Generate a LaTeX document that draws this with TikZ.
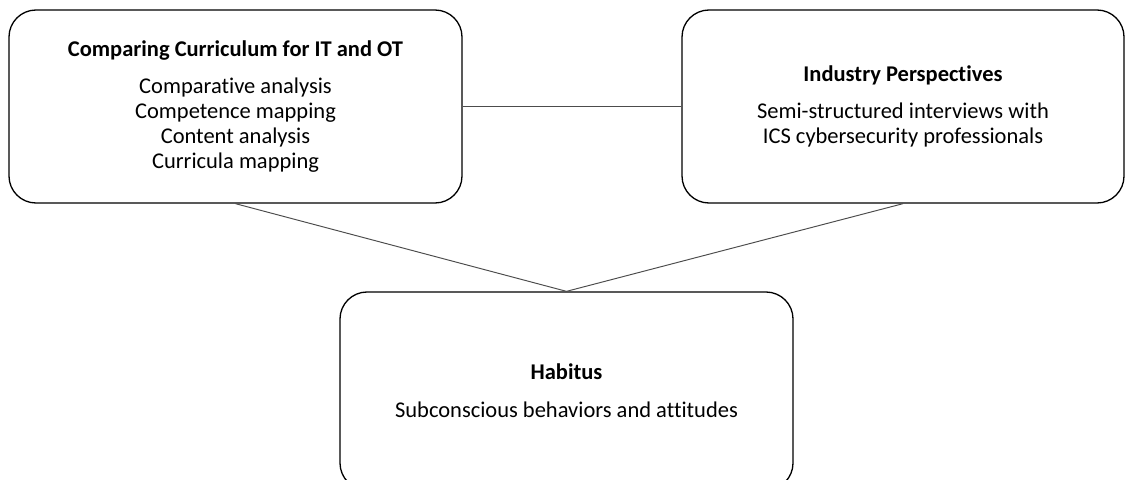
\documentclass[tikz,border=0pt]{standalone}
\usepackage{fontspec}
\setmainfont{Carlito}[Ligatures=NoCommon]
\usepackage{tikz}

\begin{document}
\begin{tikzpicture}[x=1cm,y=1cm]
\tikzstyle{box}=[draw,rounded corners=0.54cm,line width=0.75pt,align=center,inner sep=3pt,font=\fontsize{12.8}{14.2}\selectfont]
\tikzstyle{link}=[draw=black!70,line width=0.55pt]
\useasboundingbox (0,0) rectangle (22.5,-9.58);
\node[box,minimum width=9.06cm,minimum height=3.86cm] (curr) at (4.71,-2.13) {\textbf{Comparing Curriculum for IT and OT}\\[7.3pt]Comparative analysis\\Competence mapping\\Content analysis\\Curricula mapping};
\node[box,minimum width=8.84cm,minimum height=3.86cm] (ind) at (18.06,-2.13) {\textbf{Industry Perspectives}\\[7.3pt]Semi-structured interviews with\\ICS cybersecurity professionals};
\node[box,minimum width=9.06cm,minimum height=3.96cm] (hab) at (11.33,-7.82) {\textbf{Habitus}\\[7.3pt]Subconscious behaviors and attitudes};

\draw[link] (curr) -- (ind);
\draw[link] (curr.south) -- (hab.north) -- (ind.south);
\end{tikzpicture}
\end{document}
